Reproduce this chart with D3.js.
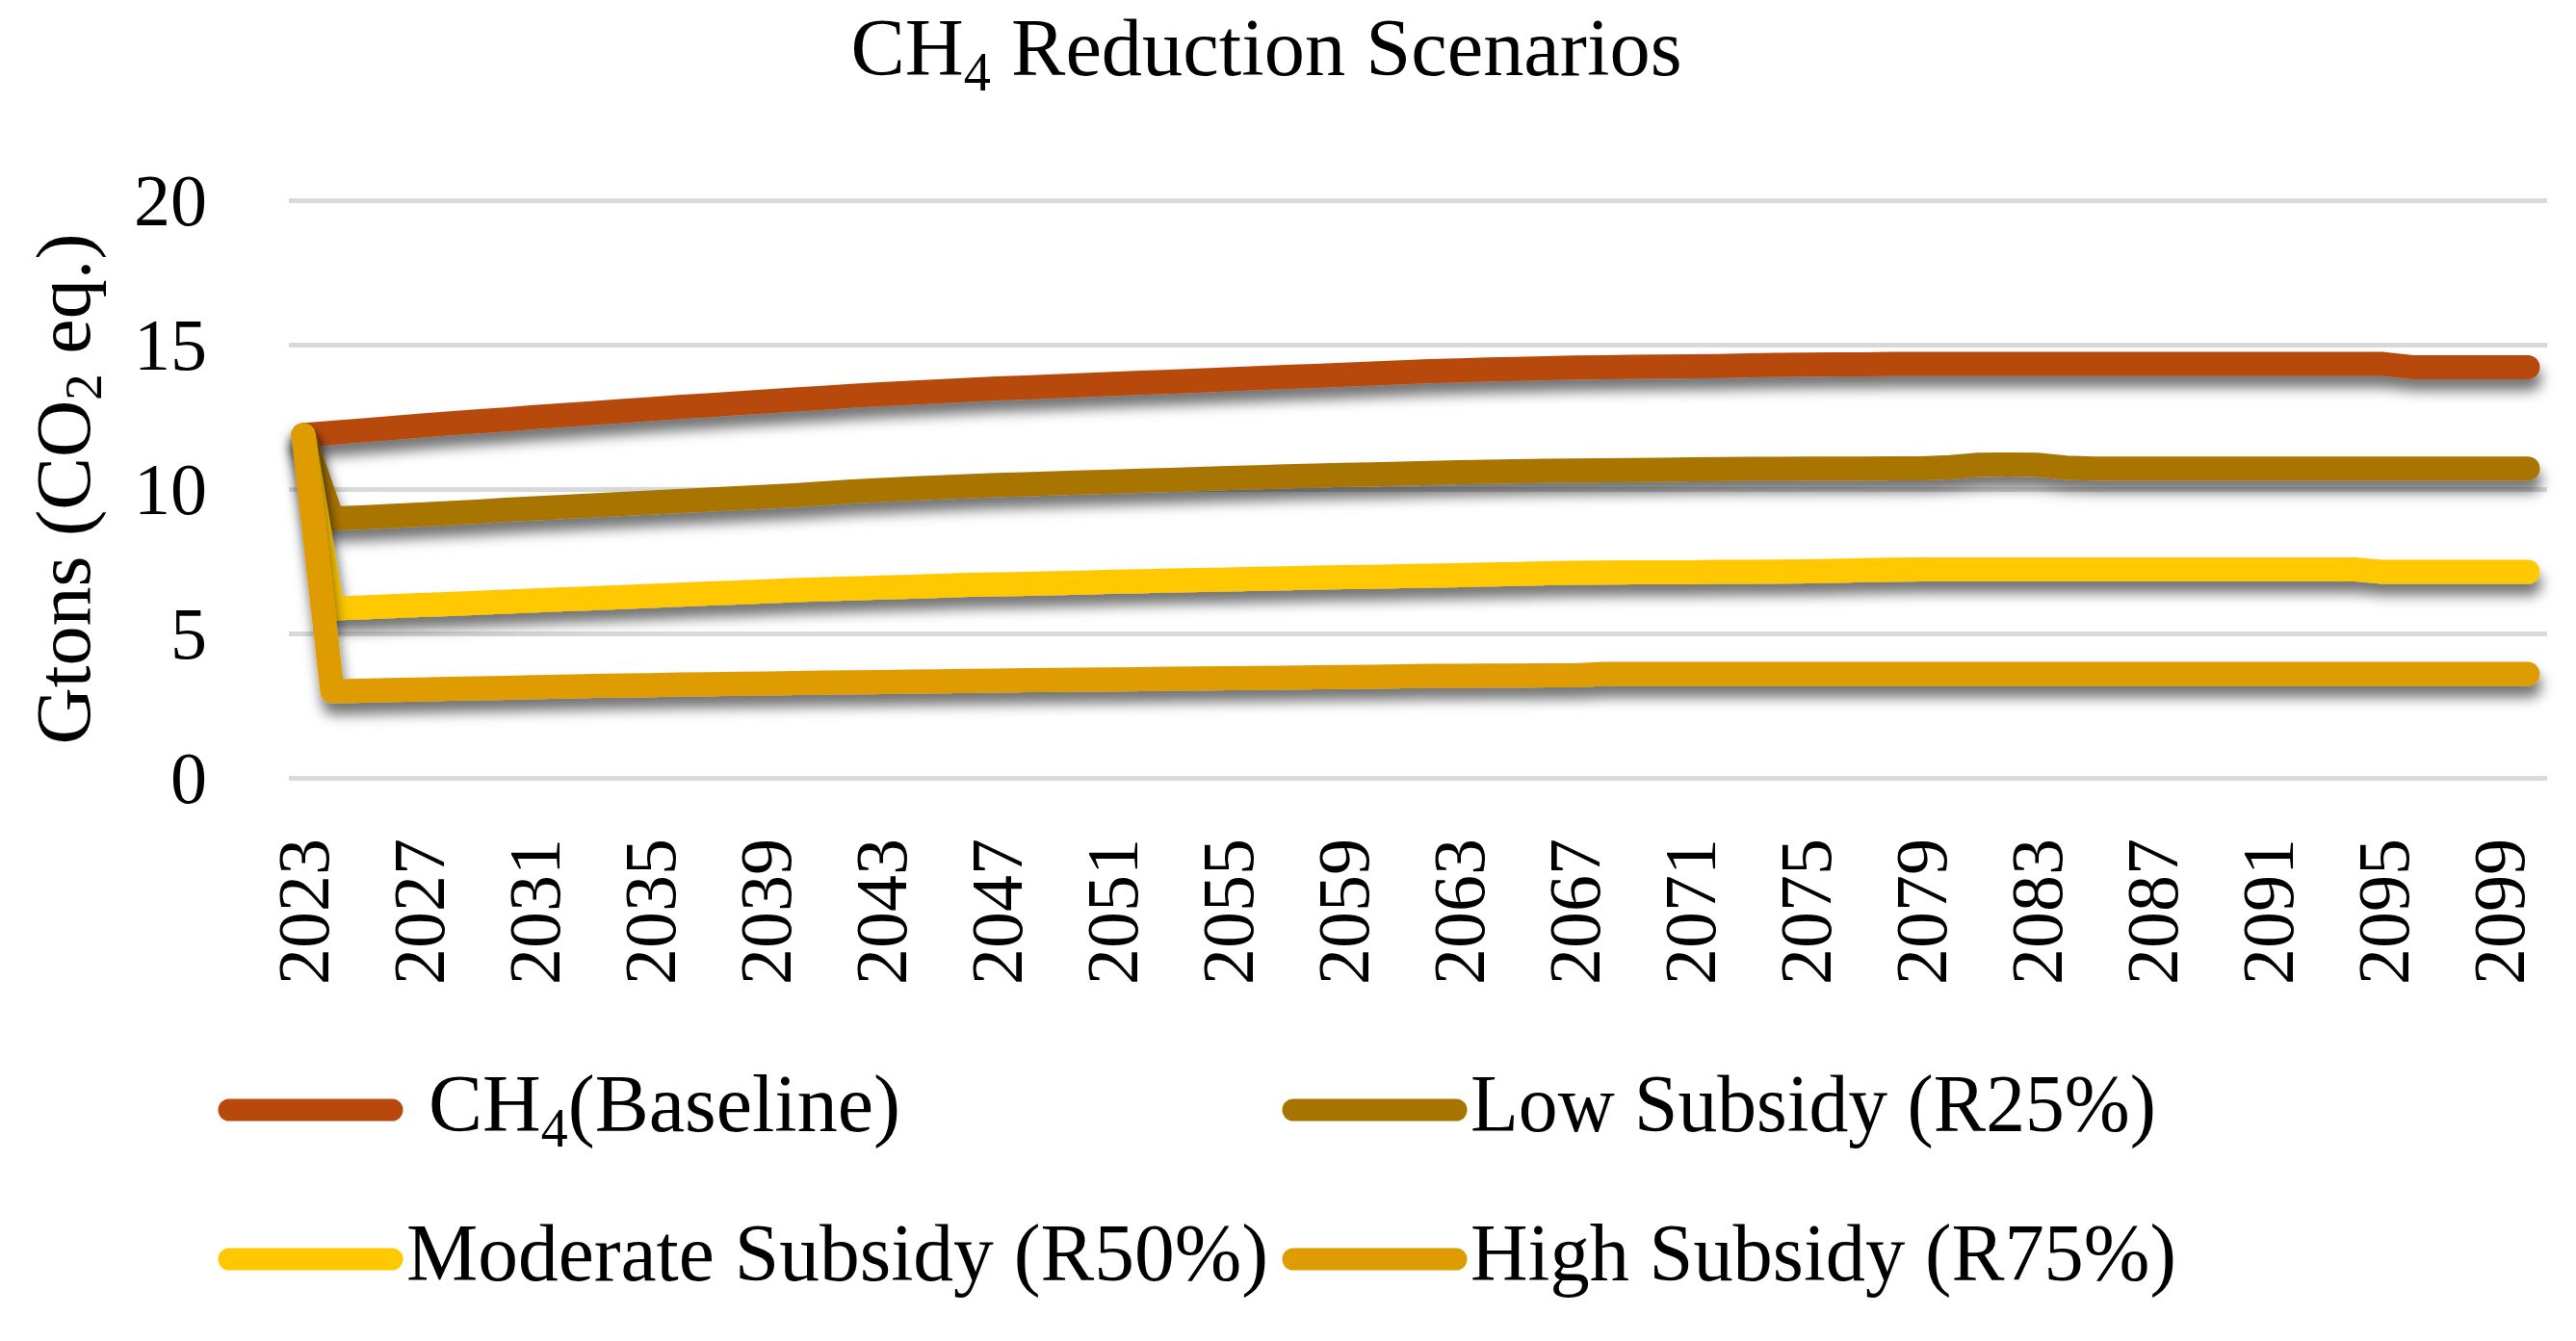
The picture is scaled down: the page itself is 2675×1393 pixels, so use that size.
<!DOCTYPE html>
<html>
<head>
<meta charset="utf-8">
<script src="https://cdn.jsdelivr.net/npm/d3@7"></script>
<style>
  html, body { margin: 0; padding: 0; background: #fff; }
  svg { display: block; }
  text { font-family: "Liberation Serif", "Times New Roman", serif; fill: #000; }
</style>
</head>
<body>
<svg id="chart"></svg>
<script>
// categories: one per year, 2023..2100
const years = d3.range(2023, 2101);
const tickLabels = [2023, 2027, 2031, 2035, 2039, 2043, 2047, 2051, 2055, 2059,
  2063, 2067, 2071, 2075, 2079, 2083, 2087, 2091, 2095, 2099];
const yTicks = [0, 5, 10, 15, 20];

// values, Gtons CO2 eq.
const baseline = [
  11.87, 11.95, 12.03, 12.11, 12.19, 12.27, 12.34, 12.41, 12.49, 12.56,
  12.63, 12.70, 12.77, 12.84, 12.90, 12.97, 13.03, 13.10, 13.16, 13.23,
  13.28, 13.33, 13.38, 13.43, 13.48, 13.52, 13.56, 13.60, 13.64, 13.68,
  13.72, 13.76, 13.80, 13.84, 13.88, 13.92, 13.96, 14.00, 14.04, 14.08,
  14.11, 14.14, 14.16, 14.18, 14.21, 14.22, 14.23, 14.24, 14.25, 14.26,
  14.28, 14.30, 14.31, 14.32, 14.32, 14.33, 14.33,
  14.33, 14.33, 14.33, 14.33, 14.33, 14.33, 14.33, 14.33,
  14.33, 14.33, 14.33, 14.33, 14.33, 14.33, 14.33, 14.33,
  14.22, 14.22, 14.22, 14.22, 14.22
];
const lowSubsidy = [
  11.87, 8.98, 9.02, 9.07, 9.12, 9.17, 9.22, 9.28, 9.33, 9.38,
  9.43, 9.48, 9.53, 9.58, 9.63, 9.68, 9.73, 9.78, 9.85, 9.92,
  9.97, 10.02, 10.06, 10.10, 10.14, 10.17, 10.20, 10.23, 10.26, 10.29,
  10.32, 10.35, 10.38, 10.41, 10.44, 10.47, 10.49, 10.51, 10.53, 10.56,
  10.58, 10.60, 10.62, 10.63, 10.64, 10.65, 10.66, 10.67, 10.68, 10.69,
  10.70, 10.70, 10.71, 10.71, 10.71, 10.72, 10.72, 10.76, 10.84, 10.85,
  10.84, 10.74,
  10.71, 10.71, 10.71, 10.71, 10.71, 10.71, 10.71, 10.71,
  10.71, 10.71, 10.71, 10.71, 10.71, 10.71, 10.71, 10.71
];
const moderateSubsidy = [
  11.87, 5.87, 5.90, 5.94, 5.98, 6.02, 6.06, 6.10, 6.14, 6.18,
  6.22, 6.26, 6.30, 6.34, 6.38, 6.42, 6.46, 6.50, 6.53, 6.56,
  6.59, 6.62, 6.65, 6.68, 6.70, 6.72, 6.74, 6.76, 6.79, 6.81,
  6.83, 6.85, 6.87, 6.89, 6.91, 6.93, 6.95, 6.96, 6.98, 7.00,
  7.02, 7.04, 7.06, 7.08, 7.10, 7.11, 7.12, 7.12, 7.12, 7.13,
  7.13, 7.14, 7.15, 7.17, 7.19, 7.21, 7.22,
  7.22, 7.22, 7.22, 7.22, 7.22, 7.22, 7.22, 7.22,
  7.22, 7.22, 7.22, 7.22, 7.22, 7.22, 7.22,
  7.13, 7.13, 7.13, 7.13, 7.13, 7.13
];
const highSubsidy = [
  11.87, 3.00, 3.02, 3.04, 3.06, 3.08, 3.10, 3.12, 3.14, 3.16,
  3.18, 3.20, 3.21, 3.23, 3.24, 3.26, 3.27, 3.28, 3.30, 3.31,
  3.32, 3.33, 3.34, 3.36, 3.37, 3.38, 3.39, 3.40, 3.41, 3.42,
  3.43, 3.44, 3.45, 3.46, 3.47, 3.48, 3.49, 3.50, 3.52, 3.53,
  3.53, 3.54, 3.54, 3.55, 3.55,
  3.60, 3.60, 3.60, 3.60, 3.60, 3.60, 3.60, 3.60, 3.60, 3.60, 3.60,
  3.60, 3.60, 3.60, 3.60, 3.60, 3.60, 3.60, 3.60, 3.60, 3.60, 3.60,
  3.60, 3.60, 3.60, 3.60, 3.60, 3.60, 3.60, 3.60, 3.60, 3.60, 3.60
];

const seriesNames = ['Baseline', 'Low Subsidy (R25%)', 'Moderate Subsidy (R50%)', 'High Subsidy (R75%)'];
const seriesValues = [baseline, lowSubsidy, moderateSubsidy, highSubsidy];
const colors = ['#B8480C', '#A87400', '#FFC800', '#DE9C00'];

const width = 2675, height = 1393;
const margin = { top: 208, right: 30, bottom: 585, left: 300 };
const plotRight = width - margin.right;
const plotBottom = height - margin.bottom;

const svg = d3.select('#chart')
  .attr('width', width)
  .attr('height', height)
  .attr('viewBox', `0 0 ${width} ${height}`);

// drop shadow under the lines
const defs = svg.append('defs');
defs.append('filter')
  .attr('id', 'shadow')
  .attr('filterUnits', 'userSpaceOnUse')
  .attr('x', 0).attr('y', 0).attr('width', width).attr('height', height)
  .append('feDropShadow')
  .attr('dx', 2)
  .attr('dy', 12)
  .attr('stdDeviation', 7)
  .attr('flood-color', '#000')
  .attr('flood-opacity', 0.55);

const x = d3.scalePoint()
  .domain(years)
  .range([margin.left, plotRight - 5])
  .padding(0.5);

const y = d3.scaleLinear()
  .domain([0, 20])
  .range([plotBottom, margin.top]);

// gridlines + y labels
const yAxis = svg.append('g')
  .attr('transform', `translate(${margin.left},0)`)
  .call(d3.axisLeft(y).tickValues(yTicks).tickSize(-(plotRight - margin.left)).tickPadding(85));
yAxis.select('.domain').remove();
yAxis.selectAll('.tick line')
  .attr('stroke', '#D9D9D9')
  .attr('stroke-width', 5);
yAxis.selectAll('.tick text')
  .attr('font-size', 76)
  .attr('font-family', '"Liberation Serif", serif')
  .attr('fill', '#000')
  .attr('dy', '0.34em');

// x labels, rotated
const xAxis = svg.append('g')
  .attr('transform', `translate(0,${plotBottom})`)
  .call(d3.axisBottom(x).tickValues(tickLabels).tickSize(0));
xAxis.select('.domain').remove();
xAxis.selectAll('.tick text')
  .attr('font-size', 76)
  .attr('font-family', '"Liberation Serif", serif')
  .attr('fill', '#000')
  .attr('text-anchor', 'end')
  .attr('transform', 'translate(0,63) rotate(-90)')
  .attr('x', 0)
  .attr('y', 0)
  .attr('dy', '0.34em');

// lines
const line = d3.line()
  .x((d, i) => x(years[i]))
  .y(d => y(d));

svg.append('g')
  .selectAll('path')
  .data(seriesValues)
  .join('path')
  .attr('d', line)
  .attr('fill', 'none')
  .attr('stroke', (d, i) => colors[i])
  .attr('stroke-width', 25)
  .attr('stroke-linejoin', 'round')
  .attr('stroke-linecap', 'round')
  .attr('filter', 'url(#shadow)');

// title
const title = svg.append('text')
  .attr('x', 1315)
  .attr('y', 78)
  .attr('text-anchor', 'middle')
  .attr('font-size', 84)
  .attr('textLength', 863)
  .attr('lengthAdjust', 'spacingAndGlyphs');
title.append('tspan').text('CH');
title.append('tspan').text('4').attr('font-size', 56).attr('dy', 16);
title.append('tspan').text(' Reduction Scenarios').attr('dy', -16);

// y axis title
const yTitle = svg.append('text')
  .attr('transform', `translate(93,${(margin.top + plotBottom) / 2}) rotate(-90)`)
  .attr('text-anchor', 'middle')
  .attr('font-size', 80)
  .attr('textLength', 531)
  .attr('lengthAdjust', 'spacingAndGlyphs');
yTitle.append('tspan').text('Gtons (CO');
yTitle.append('tspan').text('2').attr('font-size', 54).attr('dy', 12);
yTitle.append('tspan').text(' eq.)').attr('dy', -12);

// legend, 2 x 2
const legendCols = [227, 1332];
const legendRows = [1153, 1308];
const symLen = 191;

const legend = svg.append('g');
seriesNames.forEach((name, i) => {
  const cx = legendCols[i % 2];
  const cy = legendRows[Math.floor(i / 2)];
  legend.append('line')
    .attr('x1', cx + 11).attr('x2', cx + symLen - 11)
    .attr('y1', cy).attr('y2', cy)
    .attr('stroke', colors[i])
    .attr('stroke-width', 23)
    .attr('stroke-linecap', 'round');
  const t = legend.append('text')
    .attr('x', cx + symLen + 4)
    .attr('y', cy + 22)
    .attr('font-size', 84);
  if (i === 0) {
    t.attr('x', cx + symLen + 27);
    t.append('tspan').text('CH');
    t.append('tspan').text('4').attr('font-size', 56).attr('dy', 16);
    t.append('tspan').text('(' + name + ')').attr('dy', -16);
  } else {
    t.text(name);
    t.attr('textLength', i === 1 ? 712 : (i === 2 ? 895 : 733))
      .attr('lengthAdjust', 'spacingAndGlyphs');
  }
});
</script>
</body>
</html>
